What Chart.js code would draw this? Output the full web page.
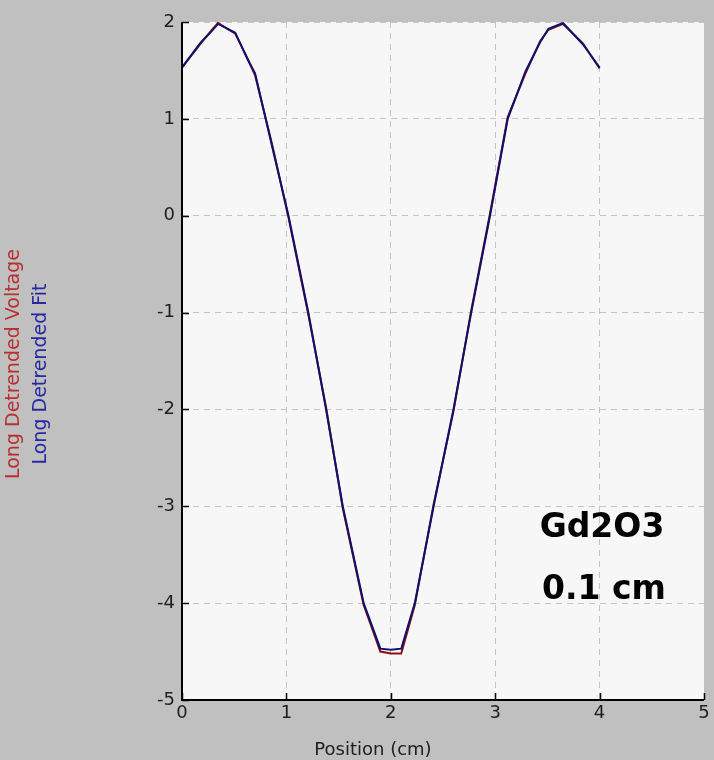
<!DOCTYPE html>
<html>
<head>
<meta charset="utf-8">
<script src="https://cdn.jsdelivr.net/npm/chart.js@4/dist/chart.umd.min.js"></script>
<style>
  html, body { margin: 0; padding: 0; background: #c0c0c0; }
  #wrap { width: 714px; height: 760px; }
</style>
</head>
<body>
<div id="wrap"><canvas id="gdChart" width="714" height="760"></canvas></div>
<script>
// Values
const positions = [0, 0.18, 0.28, 0.345, 0.51, 0.63, 0.70, 0.86, 1.02, 1.21, 1.38, 1.54, 1.74, 1.90, 2.00, 2.10, 2.23, 2.41, 2.60, 2.77, 2.95, 3.12, 3.29, 3.43, 3.51, 3.65, 3.84, 4.00];
const voltage = [1.53, 1.78, 1.91, 1.99, 1.88, 1.62, 1.45, 0.75, -0.02, -1.02, -1.98, -3.02, -4.02, -4.50, -4.52, -4.52, -4.02, -2.98, -2.02, -0.98, 0.02, 1.02, 1.47, 1.80, 1.92, 1.98, 1.78, 1.52];
const fit = [1.53, 1.79, 1.90, 1.98, 1.89, 1.61, 1.47, 0.73, 0.00, -1.00, -2.00, -3.00, -4.00, -4.47, -4.48, -4.47, -4.00, -3.00, -2.00, -1.00, 0.00, 1.00, 1.49, 1.79, 1.93, 1.99, 1.77, 1.53];

const xTicks = [0, 1, 2, 3, 4, 5];
const yTicks = [-5, -4, -3, -2, -1, 0, 1, 2];

const FONT = '"DejaVu Sans", Verdana, sans-serif';

// Backgrounds, axes, inward ticks and the free text of the plot
const framePlugin = {
  id: 'frame',
  beforeDraw(chart) {
    const { ctx, chartArea: a } = chart;
    ctx.save();
    ctx.fillStyle = '#c0c0c0';
    ctx.fillRect(0, 0, chart.width, chart.height);
    ctx.fillStyle = '#f7f7f7';
    ctx.fillRect(a.left, a.top, a.right - a.left, a.bottom - a.top);
    ctx.restore();
  },
  afterDraw(chart) {
    const { ctx, chartArea: a, scales } = chart;
    ctx.save();
    ctx.strokeStyle = '#000';
    ctx.lineWidth = 2;
    ctx.beginPath();
    ctx.moveTo(a.left, a.top);
    ctx.lineTo(a.left, a.bottom);
    ctx.lineTo(a.right, a.bottom);
    ctx.stroke();

    ctx.lineWidth = 1.5;
    xTicks.forEach(v => {
      const px = Math.round(scales.x.getPixelForValue(v)) + 0.5;
      ctx.beginPath();
      ctx.moveTo(px, a.bottom);
      ctx.lineTo(px, a.bottom - 7);
      ctx.stroke();
    });
    yTicks.forEach(v => {
      const py = Math.round(scales.y.getPixelForValue(v)) + 0.5;
      ctx.beginPath();
      ctx.moveTo(a.left, py);
      ctx.lineTo(a.left + 7, py);
      ctx.stroke();
    });

    // axis titles
    ctx.fillStyle = '#202020';
    ctx.font = '18px ' + FONT;
    ctx.textAlign = 'center';
    ctx.textBaseline = 'alphabetic';
    ctx.fillText('Position (cm)', 373, 755);

    ctx.font = '19px ' + FONT;
    ctx.save();
    ctx.translate(14, 364);
    ctx.rotate(-Math.PI / 2);
    ctx.textBaseline = 'middle';
    ctx.fillStyle = '#b83030';
    ctx.fillText('Long Detrended Voltage', 0, 0);
    ctx.restore();

    ctx.save();
    ctx.translate(41, 374);
    ctx.rotate(-Math.PI / 2);
    ctx.textBaseline = 'middle';
    ctx.fillStyle = '#2828a0';
    ctx.fillText('Long Detrended Fit', 0, 0);
    ctx.restore();

    // sample label
    ctx.fillStyle = '#000';
    ctx.font = 'bold 33px ' + FONT;
    ctx.textAlign = 'center';
    ctx.textBaseline = 'alphabetic';
    ctx.fillText('Gd2O3', 602, 537);
    ctx.fillText('0.1 cm', 604, 599);
    ctx.restore();
  }
};

const gridColor = c => (c.tick && (c.tick.value === 5) ? 'rgba(0,0,0,0)' : '#c4c4c4');

new Chart(document.getElementById('gdChart'), {
  type: 'line',
  data: {
    datasets: [
      {
        label: 'Long Detrended Voltage',
        data: positions.map((p, i) => ({ x: p, y: voltage[i] })),
        borderColor: '#8a1010',
        borderWidth: 2,
        pointRadius: 0,
        tension: 0,
        fill: false,
        order: 2,
      },
      {
        label: 'Long Detrended Fit',
        data: positions.map((p, i) => ({ x: p, y: fit[i] })),
        borderColor: '#10106e',
        borderWidth: 2,
        pointRadius: 0,
        tension: 0,
        fill: false,
        order: 1,
      },
    ],
  },
  options: {
    responsive: false,
    animation: false,
    layout: { padding: { left: 0, top: 22, right: 10, bottom: 0 } },
    plugins: {
      legend: { display: false },
      tooltip: { enabled: false },
    },
    scales: {
      x: {
        type: 'linear',
        min: 0,
        max: 5,
        afterFit(scale) { scale.height = 60; },
        afterBuildTicks(scale) { scale.ticks = xTicks.map(v => ({ value: v })); },
        ticks: { color: '#202020', font: { family: FONT, size: 18 }, padding: 3, maxRotation: 0 },
        grid: { color: gridColor, lineWidth: 1, drawTicks: false },
        border: { display: false, dash: [6, 5] },
      },
      y: {
        type: 'linear',
        min: -5,
        max: 2,
        afterFit(scale) { scale.width = 182; },
        afterBuildTicks(scale) { scale.ticks = yTicks.map(v => ({ value: v })); },
        ticks: { color: '#202020', font: { family: FONT, size: 18 }, padding: 7 },
        grid: { color: '#c4c4c4', lineWidth: 1, drawTicks: false },
        border: { display: false, dash: [6, 5] },
      },
    },
  },
  plugins: [framePlugin],
});
</script>
</body>
</html>
